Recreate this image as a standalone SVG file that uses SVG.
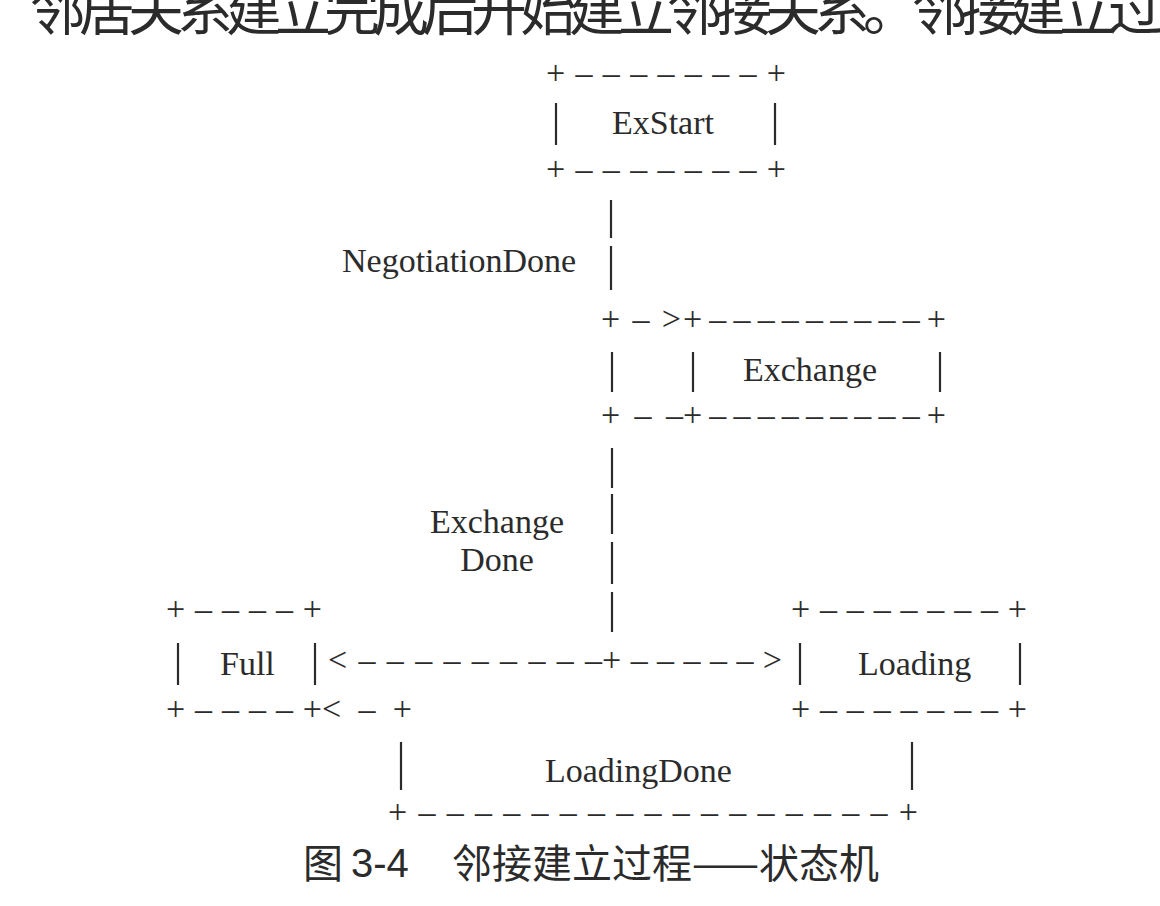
<svg xmlns="http://www.w3.org/2000/svg" width="1160" height="906" viewBox="0 0 1160 906">
<style>
.t{font-family:"Liberation Serif","Times New Roman",serif;font-size:34px;fill:#2b2b2b}
.r{font-family:"Liberation Serif","Times New Roman",serif;font-size:34px;fill:#2b2b2b}
.bar{stroke:#2b2b2b;stroke-width:2.2;fill:none}
.cjk{font-family:"Noto Sans CJK SC","Liberation Sans",sans-serif;fill:#2b2b2b}
.cap{font-family:"Liberation Sans","Noto Sans CJK SC",sans-serif;fill:#2b2b2b}
</style>
<rect width="1160" height="906" fill="#ffffff"/>
<text class="cjk" x="30" y="30" font-size="56" textLength="1134" lengthAdjust="spacing">邻居关系建立完成后开始建立邻接关系。邻接建立过</text>

<g id="ExStart">
<text class="r" x="546" y="84" textLength="240" lengthAdjust="spacing">+–––––––+</text>
<line class="bar" x1="556" y1="103" x2="556" y2="145"/>
<line class="bar" x1="775" y1="103" x2="775" y2="145"/>
<text class="t" x="612" y="134">ExStart</text>
<text class="r" x="546" y="180" textLength="240" lengthAdjust="spacing">+–––––––+</text>
</g>

<g id="Exchange">
<text class="r" x="683" y="330" textLength="263" lengthAdjust="spacing">+–––––––––+</text>
<line class="bar" x1="693" y1="352" x2="693" y2="392"/>
<line class="bar" x1="940" y1="352" x2="940" y2="392"/>
<text class="t" x="743" y="381">Exchange</text>
<text class="r" x="683" y="426" textLength="263" lengthAdjust="spacing">+–––––––––+</text>
</g>

<g id="Full">
<text class="r" x="166" y="620" textLength="156" lengthAdjust="spacing">+––––+</text>
<line class="bar" x1="178" y1="643" x2="178" y2="685"/>
<line class="bar" x1="315" y1="643" x2="315" y2="685"/>
<text class="t" x="220" y="675">Full</text>
<text class="r" x="166" y="720" textLength="156" lengthAdjust="spacing">+––––+</text>
</g>

<g id="Loading">
<text class="r" x="791" y="620" textLength="236" lengthAdjust="spacing">+–––––––+</text>
<line class="bar" x1="800" y1="643" x2="800" y2="685"/>
<line class="bar" x1="1020" y1="643" x2="1020" y2="685"/>
<text class="t" x="858" y="675">Loading</text>
<text class="r" x="791" y="720" textLength="236" lengthAdjust="spacing">+–––––––+</text>
</g>

<g id="connectors">
<line class="bar" x1="611" y1="200" x2="611" y2="238"/>
<line class="bar" x1="611" y1="246" x2="611" y2="290"/>
<text class="t" x="342" y="272">NegotiationDone</text>
<text class="r" x="601" y="330" textLength="80" lengthAdjust="spacing">+–&gt;</text>
<line class="bar" x1="612" y1="352" x2="612" y2="392"/>
<text class="r" x="601" y="426" textLength="82" lengthAdjust="spacing">+––</text>
<line class="bar" x1="612" y1="448" x2="612" y2="488"/>
<line class="bar" x1="612" y1="494" x2="612" y2="534"/>
<line class="bar" x1="612" y1="542" x2="612" y2="584"/>
<line class="bar" x1="612" y1="592" x2="612" y2="632"/>
<text class="t" x="497" y="533" text-anchor="middle">Exchange</text>
<text class="t" x="497" y="571" text-anchor="middle">Done</text>
<text class="r" x="328" y="671" textLength="274" lengthAdjust="spacing">&lt;–––––––––</text>
<text class="r" x="602" y="671" textLength="180" lengthAdjust="spacing">+–––––&gt;</text>
<text class="r" x="322" y="720" textLength="90" lengthAdjust="spacing">&lt;–+</text>
<line class="bar" x1="401" y1="742" x2="401" y2="790"/>
<line class="bar" x1="912" y1="742" x2="912" y2="790"/>
<text class="t" x="545" y="782">LoadingDone</text>
<text class="r" x="388" y="823" textLength="530" lengthAdjust="spacing">+–––––––––––––––––+</text>
</g>

<text class="cjk" x="303" y="878" font-size="40">图</text>
<text class="cap" x="351" y="877" font-size="40">3-4</text>
<text class="cjk" x="452" y="878" font-size="40">邻接建立过程——状态机</text>
</svg>
